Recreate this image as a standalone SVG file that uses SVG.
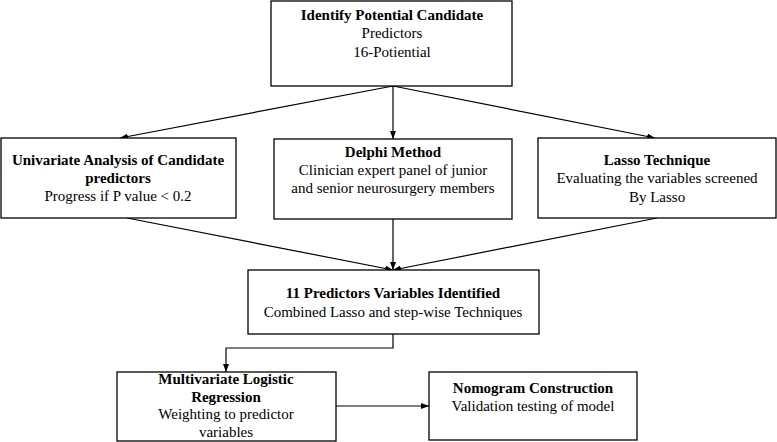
<svg xmlns="http://www.w3.org/2000/svg" width="777" height="442" viewBox="0 0 777 442">
<defs>
<marker id="ah" markerWidth="8" markerHeight="6" refX="8" refY="3" orient="auto" markerUnits="userSpaceOnUse">
<path d="M0,0 L8,3 L0,6 z" fill="#000"/>
</marker>
<style>
.box{fill:#fff;stroke:#000;stroke-width:1.3}
text{font-family:"Liberation Serif","Times New Roman",serif;font-size:15px;fill:#000;text-anchor:middle}
.b{font-weight:bold}
.c{fill:none;stroke:#000;stroke-width:1.2}
</style>
</defs>
<rect width="777" height="442" fill="#fff"/>
<g id="connectors">
<line class="c" x1="393" y1="86" x2="120" y2="138" marker-end="url(#ah)"/>
<line class="c" x1="393" y1="86" x2="393" y2="139" marker-end="url(#ah)"/>
<line class="c" x1="393" y1="86" x2="655" y2="138" marker-end="url(#ah)"/>
<line class="c" x1="127" y1="218" x2="393" y2="270" marker-end="url(#ah)"/>
<line class="c" x1="393" y1="219" x2="393" y2="270" marker-end="url(#ah)"/>
<line class="c" x1="657" y1="218" x2="393" y2="270" marker-end="url(#ah)"/>
<polyline class="c" points="393,334 393,348 226,348 226,372" marker-end="url(#ah)"/>
<line class="c" x1="336" y1="406" x2="429" y2="406" marker-end="url(#ah)"/>
</g>
<g id="identify">
<rect class="box" x="271" y="1" width="241" height="85"/>
<text class="b" x="392" y="20">Identify Potential Candidate</text>
<text x="392" y="38">Predictors</text>
<text x="392" y="57">16-Potiential</text>
</g>
<g id="univariate">
<rect class="box" x="1" y="138" width="235" height="80"/>
<text class="b" x="118" y="165">Univariate Analysis of Candidate</text>
<text class="b" x="118" y="183">predictors</text>
<text x="118" y="201">Progress if P value &lt; 0.2</text>
</g>
<g id="delphi">
<rect class="box" x="274" y="139" width="238" height="80"/>
<text class="b" x="393" y="157">Delphi Method</text>
<text x="393" y="175">Clinician  expert panel of junior</text>
<text x="393" y="193">and senior neurosurgery members</text>
</g>
<g id="lasso">
<rect class="box" x="538" y="138" width="238" height="80"/>
<text class="b" x="657" y="165">Lasso Technique</text>
<text x="657" y="183">Evaluating the variables screened</text>
<text x="657" y="202">By Lasso</text>
</g>
<g id="predictors11">
<rect class="box" x="248" y="270" width="291" height="64"/>
<text class="b" x="393" y="298">11 Predictors Variables Identified</text>
<text x="393" y="317">Combined Lasso and step-wise Techniques</text>
</g>
<g id="multivariate">
<rect class="box" x="117" y="372" width="219" height="69"/>
<text class="b" x="226" y="384">Multivariate Logistic</text>
<text class="b" x="226" y="402">Regression</text>
<text x="226" y="419">Weighting to predictor</text>
<text x="226" y="437">variables</text>
</g>
<g id="nomogram">
<rect class="box" x="429" y="372" width="208" height="68"/>
<text class="b" x="533" y="393">Nomogram  Construction</text>
<text x="533" y="411">Validation  testing of model</text>
</g>
</svg>
